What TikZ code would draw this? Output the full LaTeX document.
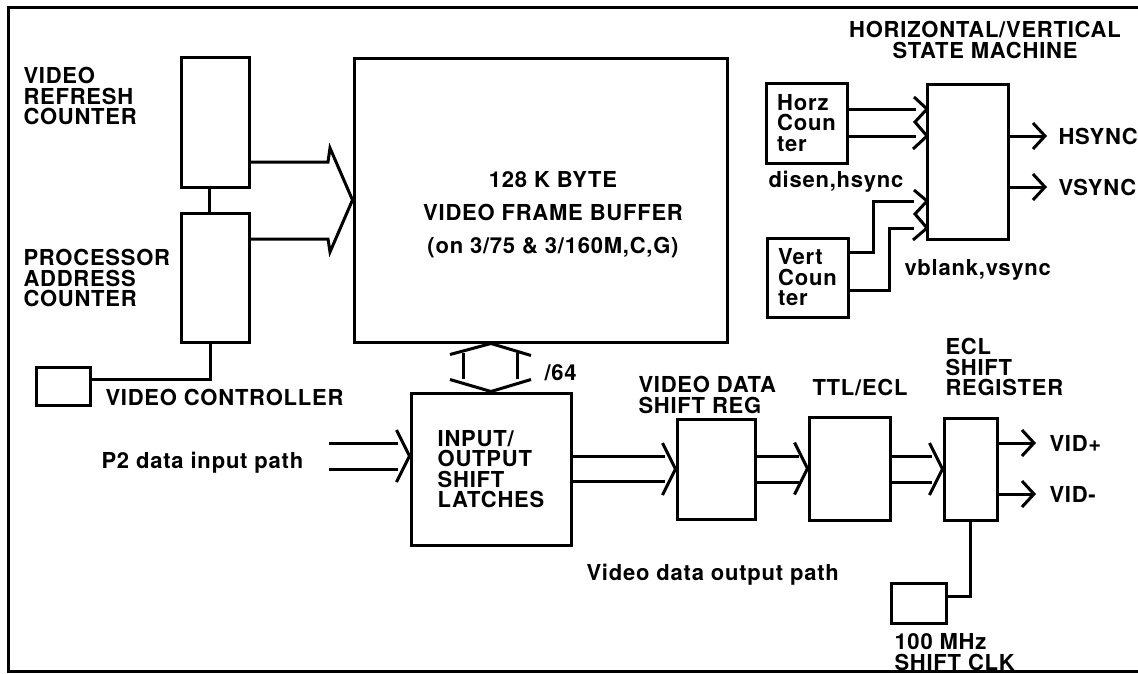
\documentclass[tikz,border=0pt]{standalone}
\usepackage{fontspec}
\setmainfont{TeX Gyre Heros}[LetterSpace=3.5]
\usetikzlibrary{arrows.meta}

\tikzset{
  every node/.style={font=\fontsize{22}{20.5}\selectfont\bfseries},
  blk/.style={draw, inner sep=0pt, align=left},
  lbl/.style={inner sep=0pt, anchor=west, align=left},
  sig/.style={-{Straight Barb[length=12pt,width=26pt]}},
}
% open chevron whose tip touches a box
\newcommand{\chev}[1]{\draw (#1) ++(-13,-26) -- (#1) -- ++(-13,26);}

\begin{document}
\begin{tikzpicture}[x=1pt, y=-1pt, line width=3pt]
  \useasboundingbox (0,0) rectangle (1138,673);
  \draw (8,7) rectangle (1150,671);

  % boxes
  \node[blk, minimum width=68, minimum height=130] (refresh) at (215,122) {};
  \node[blk, minimum width=68, minimum height=129] (procaddr) at (215,277.5) {};
  \node[blk, minimum width=54, minimum height=38] (vidctrl) at (63,386) {};
  \node[blk, minimum width=373, minimum height=284] (framebuf) at (540.5,200) {};
  \node[blk, minimum width=160, minimum height=152] (latches) at (491,469) {INPUT/\\OUTPUT\\SHIFT\\LATCHES};
  \node[blk, minimum width=78, minimum height=100] (shiftreg) at (716,469) {};
  \node[blk, minimum width=81, minimum height=103] (ttlecl) at (849.5,468.5) {};
  \node[blk, minimum width=53, minimum height=102] (eclreg) at (970.5,469) {};
  \node[blk, minimum width=55, minimum height=40] (shiftclk) at (918.5,603) {};
  \node[blk, minimum width=81, minimum height=80] (horz) at (806.5,123) {Horz\\Coun\\ter};
  \node[blk, minimum width=81, minimum height=79] (vert) at (807.5,277.5) {Vert\\Coun\\ter};
  \node[blk, minimum width=81, minimum height=155] (statem) at (967.5,161.5) {};

  % labels
  \node[align=center, inner sep=0pt, font=\fontsize{22}{33}\selectfont\bfseries] (fbtext) at (553,215)
    {128 K BYTE\\VIDEO FRAME BUFFER\\(on 3/75 \& 3/160M,C,G)};
  \node[lbl] (refreshlbl) at (22,96) {VIDEO\\REFRESH\\COUNTER};
  \node[lbl] (procaddrlbl) at (22,278) {PROCESSOR\\ADDRESS\\COUNTER};
  \node[lbl] (vidctrllbl) at (104,397) {VIDEO CONTROLLER};
  \node[lbl, anchor=center, align=center] (statemlbl) at (985,40) {HORIZONTAL/VERTICAL\\STATE MACHINE};
  \node[lbl] (horzlbl) at (767,182) {disen,hsync};
  \node[lbl] (vertlbl) at (903,270) {vblank,vsync};
  \node[lbl] (hsync) at (1057,136) {HSYNC};
  \node[lbl] (vsync) at (1057,187) {VSYNC};
  \node[lbl] (buswidth) at (543,373) {/64};
  \node[lbl] (inpath) at (100,463) {P2 data input path};
  \node[lbl] (shiftreglbl) at (637,395) {VIDEO DATA\\SHIFT REG};
  \node[lbl] (ttlecllbl) at (811,387) {TTL/ECL};
  \node[lbl] (eclreglbl) at (944,367) {ECL\\SHIFT\\REGISTER};
  \node[lbl] (vidp) at (1048,443) {VID+};
  \node[lbl] (vidm) at (1048,494) {VID-};
  \node[lbl] (outpath) at (585,575) {Video data output path};
  \node[lbl] (shiftclklbl) at (893,652) {100 MHz\\SHIFT CLK};

  % counters into the frame buffer
  \draw ([yshift=-40pt]refresh.east) -- (328,162) -- (330,148) -- (framebuf.west)
    -- (330,252) -- (328,239) -- ([yshift=38.5pt]procaddr.east);
  \draw ([xshift=-6pt]refresh.south) -- ([xshift=-6pt]procaddr.north);
  \draw ([xshift=-5pt]procaddr.south) |- ([yshift=7pt]vidctrl.east);

  % frame buffer <-> latches
  \coordinate (fbtip) at (latches.north |- framebuf.south);
  \draw (fbtip) ++(-41,11) -- (fbtip) -- ++(40,12);
  \draw (latches.north) ++(-41,-12) -- (latches.north) -- ++(40,-12);
  \draw (latches.north) ++(-28,-13) -- ++(0,-26);
  \draw (latches.north) ++(26,-13) -- ++(0,-26);

  % data path
  \coordinate (p2top) at (329,443);
  \coordinate (p2bot) at (329,469);
  \draw (p2top) -- ++(69,0);
  \draw (p2bot) -- ++(69,0);
  \chev{[yshift=13pt]latches.west}
  \draw ([yshift=13pt]latches.east) -- ++(92,0);
  \draw ([yshift=-12pt]latches.east) -- ++(92,0);
  \chev{shiftreg.west}
  \draw ([yshift=13pt]shiftreg.east) -- ++(42,0);
  \draw ([yshift=-13pt]shiftreg.east) -- ++(42,0);
  \chev{ttlecl.west}
  \draw ([yshift=12.5pt]ttlecl.east) -- ++(40,0);
  \draw ([yshift=-13.5pt]ttlecl.east) -- ++(40,0);
  \chev{eclreg.west}
  \draw[sig] (eclreg.east |- vidp.west) -- ([xshift=-12pt]vidp.west);
  \draw[sig] (eclreg.east |- vidm.west) -- ([xshift=-12pt]vidm.west);
  \draw (eclreg.south) |- ([yshift=7pt]shiftclk.east);

  % state machine
  \draw ([yshift=14pt]horz.east) -- ++(67,0);
  \draw ([yshift=-13pt]horz.east) -- ++(67,0);
  \draw (914,97) -- (927,109) -- (915,122) -- (927,136) -- (913,149);
  \draw ([yshift=25.5pt]vert.east) -- (873,252) |- (914,201);
  \draw ([yshift=-12.5pt]vert.east) -- (889,290) |- (914,228);
  \draw (914,190) -- (927,201) -- (915,214) -- (927,228) -- (913,240);
  \draw[sig] (statem.east |- hsync.west) -- ([xshift=-10pt]hsync.west);
  \draw[sig] (statem.east |- vsync.west) -- ([xshift=-10pt]vsync.west);
\end{tikzpicture}
\end{document}
